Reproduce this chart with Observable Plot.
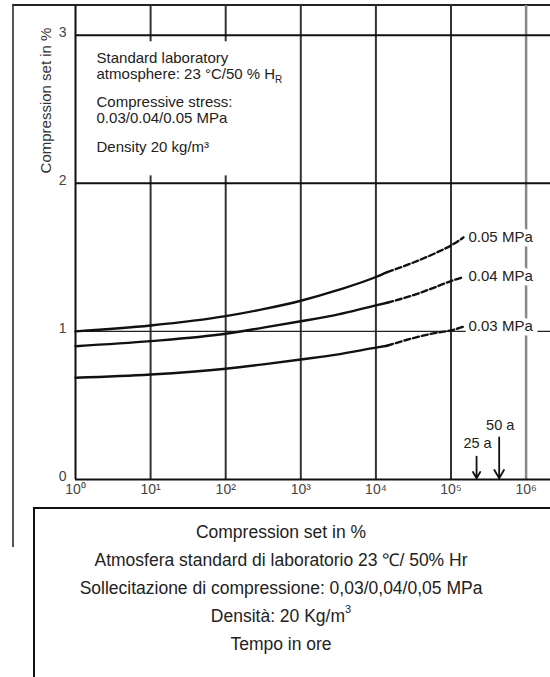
<!DOCTYPE html>
<html>
<head>
<meta charset="utf-8">
<script src="https://cdn.jsdelivr.net/npm/d3@7"></script>
<script src="https://cdn.jsdelivr.net/npm/@observablehq/plot@0.6"></script>
<style>
  body { margin:0; width:550px; height:677px; position:relative; overflow:hidden; background:#fff; font-family:"Liberation Sans", Arial, sans-serif; }
  #frame { position:absolute; left:12px; top:4px; width:600px; height:541px; border-left:2px solid #555; border-top:2px solid #222; }
  #chart { position:absolute; left:0; top:0; }
  #caption { position:absolute; left:33px; top:507px; width:600px; height:180px; border:2px solid #111; background:#fff; }
  #caption .inner { width:492px; text-align:center; font-size:17.5px; line-height:28px; padding-top:9px; color:#222; }
  #caption sup { font-size:11px; line-height:0; vertical-align:9px; }
</style>
</head>
<body>
<div id="frame"></div>
<div id="chart"></div>
<div id="caption"><div class="inner">
  <div>Compression set in %</div>
  <div>Atmosfera standard di laboratorio 23 ℃/ 50% Hr</div>
  <div>Sollecitazione di compressione: 0,03/0,04/0,05 MPa</div>
  <div>Densità: 20 Kg/m<sup>3</sup></div>
  <div>Tempo in ore</div>
</div></div>
<script>
// ---- data ----
const stresses = ["0.05 MPa", "0.04 MPa", "0.03 MPa"];
// exponents of time in hours (10^e)
const solidExponents = [0, 1, 2, 2.5, 3, 3.5, 4, 4.15];
const solid005 = [1.00, 1.04, 1.103, 1.15, 1.207, 1.28, 1.367, 1.40];
const solid004 = [0.90, 0.934, 0.984, 1.025, 1.068, 1.115, 1.176, 1.193];
const solid003 = [0.687, 0.709, 0.748, 0.777, 0.81, 0.845, 0.89, 0.903];
const dashedExponents = [4.15, 4.5, 4.8, 5, 5.17];
const dashed005 = [1.40, 1.465, 1.53, 1.58, 1.635];
const dashed004 = [1.193, 1.245, 1.30, 1.34, 1.367];
const dashed003 = [0.903, 0.955, 0.99, 1.007, 1.032];

const xTicks = [1, 10, 100, 1000, 10000, 100000, 1000000];
const xTickLabels = ["10⁰", "10¹", "10²", "10³", "10⁴", "10⁵", "10⁶"];
const yTicks = [0, 1, 2, 3];
const yLabel = "Compression set in %";

const infoLines = ["Standard laboratory", "atmosphere: 23 °C/50 % H", "Compressive stress:", "0.03/0.04/0.05 MPa", "Density 20 kg/m³"];
const infoY = [2.845, 2.736, 2.547, 2.439, 2.243];
const infoX = 10 ** 0.28;
const infoBox = {x1: 10 ** 0.03, x2: 10 ** 2.93, y1: 2.05, y2: 2.955};

const labelExponent = 5.22;
const labelY = [1.635, 1.372, 1.034];

const arrowNames = ["25 a", "50 a"];
const arrowHours = [25 * 8760, 50 * 8760];
const arrowTop = [0.155, 0.285];
const arrowLabelY = [0.243, 0.365];

// ---- build tables ----
const solidSeries = [solid005, solid004, solid003];
const dashedSeries = [dashed005, dashed004, dashed003];
const solidData = stresses.flatMap((s, i) => solidExponents.map((e, j) => ({s, x: 10 ** e, y: solidSeries[i][j]})));
const dashedData = stresses.flatMap((s, i) => dashedExponents.map((e, j) => ({s, x: 10 ** e, y: dashedSeries[i][j]})));
const labelData = stresses.map((s, i) => ({s, x: 10 ** labelExponent, y: labelY[i]}));
const infoData = infoLines.map((t, i) => ({t, x: infoX, y: infoY[i]}));
const arrowData = arrowNames.map((n, i) => ({n, h: arrowHours[i], top: arrowTop[i], ly: arrowLabelY[i]}));

const font = "Liberation Sans, Arial, sans-serif";

const chart = Plot.plot({
  width: 550,
  height: 545,
  marginLeft: 75,
  marginRight: 0,
  marginTop: 5,
  marginBottom: 66,
  style: {fontFamily: font, background: "transparent", overflow: "visible"},
  x: {type: "log", domain: [1, 10 ** (475 / 75.1)]},
  y: {domain: [0, 3.2]},
  marks: [
    Plot.ruleX(xTicks.slice(1, 6), {stroke: "#333", strokeWidth: 2}),
    Plot.ruleX(xTicks.slice(6), {stroke: "#888", strokeWidth: 2.5}),
    Plot.ruleY([1], {stroke: "#222", strokeWidth: 1.3}),
    Plot.ruleY([2, 3], {stroke: "#111", strokeWidth: 2}),
    Plot.rect([infoBox], {x1: "x1", x2: "x2", y1: "y1", y2: "y2", fill: "white"}),
    Plot.ruleY([0], {stroke: "#111", strokeWidth: 2}),
    Plot.ruleX([1], {stroke: "#111", strokeWidth: 2}),
    Plot.line(solidData, {x: "x", y: "y", z: "s", stroke: "#111", strokeWidth: 2.4, curve: "monotone-x"}),
    Plot.line(dashedData, {x: "x", y: "y", z: "s", stroke: "#111", strokeWidth: 2.4, strokeDasharray: "6,3", curve: "monotone-x"}),
    Plot.text(labelData, {x: "x", y: "y", text: "s", textAnchor: "start", dx: 1, fontSize: 15, fill: "#222", stroke: "white", strokeWidth: 9}),
    Plot.text(infoData, {x: "x", y: "y", text: "t", textAnchor: "start", fontSize: 15, fill: "#222"}),
    Plot.arrow(arrowData, {x1: "h", x2: "h", y1: "top", y2: 0.008, stroke: "#111", strokeWidth: 1.8, headLength: 8}),
    Plot.text(arrowData, {x: "h", y: "ly", text: "n", fontSize: 14.5, fill: "#222", dx: 1}),
    Plot.axisX({ticks: xTicks, tickFormat: (d) => xTickLabels[xTicks.indexOf(d)], tickSize: 0, tickPadding: 5, fontSize: 14, fill: "#444", label: null}),
    Plot.axisY({ticks: yTicks, tickFormat: (d) => String(d), tickSize: 0, tickPadding: 9, dy: -3, fontSize: 14, fill: "#444", label: null}),
    Plot.text([yLabel], {frameAnchor: "top-left", dx: -35, dy: 95, rotate: -90, textAnchor: "middle", fontSize: 15, fill: "#333"})
  ]
});
document.getElementById("chart").appendChild(chart);

// subscript R after "H"
d3.select(chart).selectAll("text").filter(function () { return this.textContent === infoLines[1]; })
  .append("tspan").attr("font-size", 10).attr("dy", 4).text("R");
</script>
</body>
</html>
